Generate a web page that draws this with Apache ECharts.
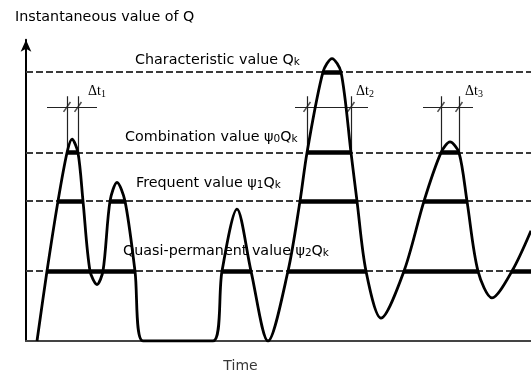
<!DOCTYPE html>
<html>
<head>
<meta charset="utf-8">
<script src="https://cdn.jsdelivr.net/npm/echarts@6/dist/echarts.min.js"></script>
<style>
  html, body { margin: 0; padding: 0; background: #fff; }
  #chart { width: 531px; height: 374px; }
</style>
</head>
<body>
<div id="chart"></div>
<script>
// time runs along the axis in arbitrary units, Q is in % of the characteristic value Qk
// (points where the curve leaves or meets the time axis are listed twice to keep a corner)
const curveTime = [11, 11, 21, 32, 41, 46, 52, 57, 64, 71, 77, 84, 91, 99, 109, 117, 117,
  187, 187, 196, 211, 225, 242, 262, 274, 281, 297, 306, 315, 325, 331, 340, 355,
  378, 398, 415, 424, 433, 441, 452, 466, 486, 505];
const curveValue = [0, 0, 26, 52, 70, 75, 70, 52, 26, 21, 26, 52, 59, 52, 26, 0, 0,
  0, 0, 26, 49, 26, 0, 26, 52, 70, 100, 105, 100, 70, 52, 26, 8.5,
  26, 52, 70, 74, 70, 52, 26, 16, 26, 41];

const timeMax = 505;
const valueMax = 112;

// Qk, psi0 Qk, psi1 Qk, psi2 Qk
const levelValues = [100, 70, 52, 26];

// spans of time during which Q is above each level
const spansQk = [[297, 315]];
const spansPsi0 = [[41, 52], [281, 325], [415, 433]];
const spansPsi1 = [[32, 57], [84, 99], [274, 331], [398, 441]];
const spansPsi2 = [[21, 109], [196, 225], [262, 340], [378, 452], [486, 505]];

// delta t markers
const dtNames = ['1', '2', '3'];
const dtStart = [41, 281, 415];
const dtEnd = [52, 325, 433];
const dtBarFrom = [21, 269, 397];
const dtBarTo = [71, 342, 447];
const dtBarValue = 87;
const dtTickTop = 91;

const textColor = '#383838';
const sansFont = 'DejaVu Sans';
const rich = {
  t: { fontFamily: sansFont, fontSize: 14.3, color: textColor, lineHeight: 16 },
  s: { fontFamily: sansFont, fontSize: 10.5, color: textColor, lineHeight: 4, verticalAlign: 'bottom' }
};
const dtRich = {
  t: { fontFamily: 'Liberation Serif', fontSize: 14, color: textColor, lineHeight: 16 },
  s: { fontFamily: 'Liberation Serif', fontSize: 10, color: textColor, lineHeight: 4, verticalAlign: 'bottom' }
};

function spanLines(spans, level) {
  return spans.map(([a, b]) => ({ coords: [[a, level], [b, level]] }));
}

const thickSpans = [
  ...spanLines(spansQk, levelValues[0]),
  ...spanLines(spansPsi0, levelValues[1]),
  ...spanLines(spansPsi1, levelValues[2]),
  ...spanLines(spansPsi2, levelValues[3])
];

const dtLines = [];
const dtTicks = [];
dtNames.forEach((n, i) => {
  dtLines.push({ coords: [[dtBarFrom[i], dtBarValue], [dtBarTo[i], dtBarValue]] });
  dtLines.push({ coords: [[dtStart[i], dtTickTop], [dtStart[i], levelValues[1]]] });
  dtLines.push({ coords: [[dtEnd[i], dtTickTop], [dtEnd[i], levelValues[1]]] });
  dtTicks.push([dtStart[i], dtBarValue], [dtEnd[i], dtBarValue]);
});

const chart = echarts.init(document.getElementById('chart'));

chart.setOption({
  animation: false,
  grid: { left: 26, right: 0, top: 39.7, bottom: 33, outerBoundsMode: 'none' },
  xAxis: {
    type: 'value',
    min: 0,
    max: timeMax,
    axisLine: { show: true, onZero: false, lineStyle: { color: '#444', width: 2 } },
    axisTick: { show: false },
    axisLabel: { show: false },
    splitLine: { show: false },
    name: 'Time',
    nameLocation: 'middle',
    nameGap: 18,
    nameTextStyle: { fontFamily: sansFont, fontSize: 14, color: textColor, padding: [0, 76, 0, 0] }
  },
  yAxis: {
    type: 'value',
    min: 0,
    max: valueMax,
    axisLine: {
      show: true,
      symbol: ['none', 'arrow'],
      symbolSize: [8, 12],
      lineStyle: { color: '#000', width: 2 }
    },
    axisTick: { show: false },
    axisLabel: { show: false },
    splitLine: { show: false }
  },
  graphic: [
    { type: 'text', x: 15, y: 9, style: { text: '{t|Instantaneous value of Q}', rich } },
    { type: 'text', x: 135, y: 52, style: { text: '{t|Characteristic value Q}{s|k}', rich } },
    { type: 'text', x: 125, y: 129, style: { text: '{t|Combination value ψ}{s|0}{t|Q}{s|k}', rich } },
    { type: 'text', x: 136, y: 175, style: { text: '{t|Frequent value ψ}{s|1}{t|Q}{s|k}', rich } },
    { type: 'text', x: 123, y: 243, style: { text: '{t|Quasi-permanent value ψ}{s|2}{t|Q}{s|k}', rich } },
    { type: 'text', x: 88, y: 83, style: { text: '{t|Δt}{s|1}', rich: dtRich } },
    { type: 'text', x: 356, y: 83, style: { text: '{t|Δt}{s|2}', rich: dtRich } },
    { type: 'text', x: 465, y: 83, style: { text: '{t|Δt}{s|3}', rich: dtRich } }
  ],
  series: [
    {
      type: 'lines',
      coordinateSystem: 'cartesian2d',
      z: 1,
      data: levelValues.map((v) => ({ coords: [[0, v], [timeMax, v]] })),
      lineStyle: { color: '#3a3a3a', width: 2.2, type: [7, 3], opacity: 1 }
    },
    {
      type: 'lines',
      coordinateSystem: 'cartesian2d',
      z: 2,
      data: thickSpans,
      lineStyle: { color: '#000', width: 4.5, opacity: 1 }
    },
    {
      type: 'lines',
      coordinateSystem: 'cartesian2d',
      z: 2,
      data: dtLines,
      lineStyle: { color: '#222', width: 1.2, opacity: 1 }
    },
    {
      type: 'scatter',
      z: 3,
      data: dtTicks,
      symbol: 'path://M0,0L1,0L1,10L0,10Z',
      symbolSize: [1.5, 12],
      symbolRotate: -35,
      itemStyle: { color: '#222' }
    },
    {
      type: 'line',
      z: 5,
      data: curveTime.map((t, i) => [t, curveValue[i]]),
      smooth: 0.3,
      symbol: 'none',
      lineStyle: { color: '#000', width: 2.8 }
    }
  ]
});
</script>
</body>
</html>
